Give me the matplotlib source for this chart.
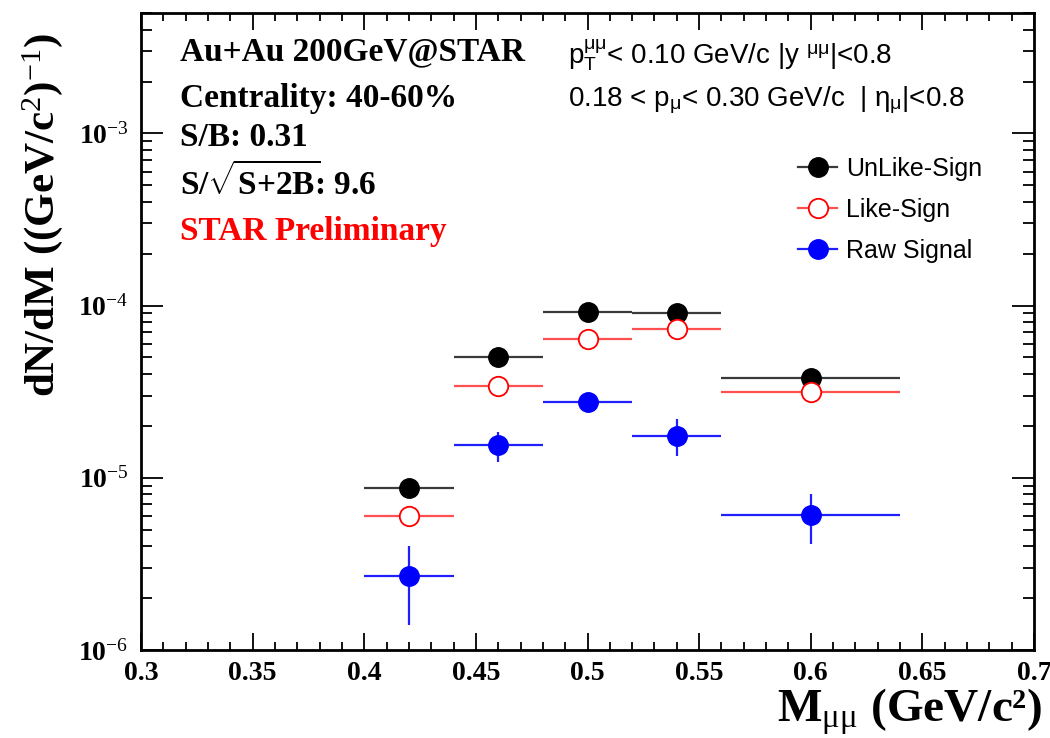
import matplotlib
matplotlib.use("Agg")
import matplotlib.pyplot as plt
from matplotlib.lines import Line2D
from matplotlib.ticker import FixedLocator, LogLocator, NullFormatter, MultipleLocator

plt.rcParams['mathtext.fontset'] = 'custom'
plt.rcParams['mathtext.rm'] = 'Liberation Serif'
plt.rcParams['mathtext.bf'] = 'Liberation Serif:bold'
plt.rcParams['mathtext.sf'] = 'Liberation Sans'
plt.rcParams['mathtext.it'] = 'Liberation Serif:italic'

# Dimuon invariant-mass bins (GeV/c^2)
mass = [0.42, 0.46, 0.50, 0.54, 0.60]
mass_halfwidth = [0.02, 0.02, 0.02, 0.02, 0.04]

# Yields dN/dM
unlike_sign = [8.75e-6, 5.0e-5, 9.2e-5, 9.1e-5, 3.78e-5]
like_sign = [5.96e-6, 3.4e-5, 6.43e-5, 7.32e-5, 3.15e-5]
raw_signal = [2.7e-6, 1.54e-5, 2.74e-5, 1.76e-5, 6.1e-6]
raw_signal_err = [1.3e-6, 0.3e-5, 0.3e-5, 0.43e-5, 2.0e-6]

x_ticks = [0.3, 0.35, 0.4, 0.45, 0.5, 0.55, 0.6, 0.65, 0.7]
x_ticklabels = ['0.3', '0.35', '0.4', '0.45', '0.5', '0.55', '0.6', '0.65', '0.7']
y_ticks = [1e-6, 1e-5, 1e-4, 1e-3]
y_ticklabels = [r'$\mathbf{10}^{-6}$', r'$\mathbf{10}^{-5}$', r'$\mathbf{10}^{-4}$', r'$\mathbf{10}^{-3}$']

W, H = 1050, 738
fig = plt.figure(figsize=(W / 100, H / 100), dpi=100)
ax = fig.add_axes([141 / W, 1 - 650 / H, (1034 - 141) / W, (650 - 13) / H])

ms = 14
ax.errorbar(mass, unlike_sign, xerr=mass_halfwidth, fmt='o', color='black',
            ecolor='#3a3a3a', elinewidth=1.6, ms=ms, mec='black', capsize=0, zorder=3)
ax.errorbar(mass, like_sign, xerr=mass_halfwidth, fmt='o', color='red',
            ecolor='#ff5050', elinewidth=1.6, ms=ms, mfc='white', mec='red', mew=1.3,
            capsize=0, zorder=4)
ax.errorbar(mass, raw_signal, xerr=mass_halfwidth, yerr=raw_signal_err, fmt='o',
            color='blue', ecolor='#2020ff', elinewidth=1.6, ms=ms, mec='blue',
            capsize=0, zorder=5)

ax.set_yscale('log')
ax.set_xlim(0.3, 0.7)
ax.set_ylim(1e-6, 5.0e-3)

ax.xaxis.set_major_locator(FixedLocator(x_ticks))
ax.set_xticklabels(x_ticklabels)
ax.xaxis.set_minor_locator(MultipleLocator(0.01))
ax.yaxis.set_major_locator(FixedLocator(y_ticks))
ax.set_yticklabels(y_ticklabels)
ax.yaxis.set_minor_locator(LogLocator(base=10, subs=range(2, 10)))
ax.yaxis.set_minor_formatter(NullFormatter())

ax.tick_params(axis='both', which='both', direction='in', top=True, right=True, width=1.3)
ax.tick_params(axis='x', which='major', length=12, pad=8)
ax.tick_params(axis='x', which='minor', length=6)
ax.tick_params(axis='y', which='major', length=16, pad=9)
ax.tick_params(axis='y', which='minor', length=8)
for lab in ax.get_xticklabels() + ax.get_yticklabels():
    lab.set_fontfamily('Liberation Serif')
    lab.set_fontweight('bold')
    lab.set_fontsize(20)
for sp in ax.spines.values():
    sp.set_linewidth(2.0)

ax.set_ylabel(r'dN/dM ((GeV/c$^{2}$)$^{-1}$)', fontfamily='Liberation Serif',
              fontweight='bold', fontsize=31, va='center', ha='center')
ax.yaxis.set_label_coords(43 / W, 1 - 215 / H, transform=fig.transFigure)
ax.set_xlabel('M$_{\\mathrm{μμ}}$ (GeV/c²)', fontfamily='Liberation Serif',
              fontweight='bold', fontsize=34, ha='right', va='center')
ax.xaxis.set_label_coords(1042 / W, 1 - 712 / H, transform=fig.transFigure)

serif_kw = dict(fontfamily='Liberation Serif', fontweight='bold', fontsize=24,
                transform=fig.transFigure, va='center', ha='left')
fx = 180 / W
ax.text(fx, 1 - 52 / H, 'Au+Au 200GeV@STAR', **serif_kw)
ax.text(fx, 1 - 98 / H, 'Centrality: 40-60%', **serif_kw)
ax.text(fx, 1 - 138 / H, 'S/B: 0.31', **serif_kw)
ax.text(fx, 1 - 182 / H, r'S/$\mathbf{\sqrt{S{+}2B}}\!$: 9.6', **serif_kw)
ax.text(fx, 1 - 232 / H, 'STAR Preliminary', color='red', **serif_kw)

sans_kw = dict(fontfamily='Liberation Sans', fontsize=20, transform=fig.transFigure,
               va='center', ha='left')
ax.text(568 / W, 1 - 55 / H,
        r'p$_{\mathsf{T}}^{\mathsf{\mu\mu}}$< 0.10 GeV/c |y $^{\mathsf{\mu\mu}}$|<0.8', **sans_kw)
ax.text(568 / W, 1 - 100 / H,
        r'0.18 < p$_{\mathsf{\mu}}$< 0.30 GeV/c  | $\mathsf{\eta}_{\mathsf{\mu}}$|<0.8', **sans_kw)

handles = [
    Line2D([], [], color='#3a3a3a', lw=1.6, marker='o', ms=ms, mfc='black', mec='black'),
    Line2D([], [], color='#ff5050', lw=1.6, marker='o', ms=ms, mfc='white', mec='red', mew=1.3),
    Line2D([], [], color='#2020ff', lw=1.6, marker='o', ms=ms, mfc='blue', mec='blue'),
]
leg = ax.legend(handles, ['UnLike-Sign', 'Like-Sign', 'Raw Signal'],
                loc='upper left', bbox_to_anchor=(798 / W, 1 - 157 / H),
                bbox_transform=fig.transFigure, frameon=False, handlelength=1.56,
                handletextpad=0.36, labelspacing=0.68, borderpad=0, borderaxespad=0,
                prop={'family': 'Liberation Sans', 'size': 18})

fig.savefig('out.png', dpi=100)
